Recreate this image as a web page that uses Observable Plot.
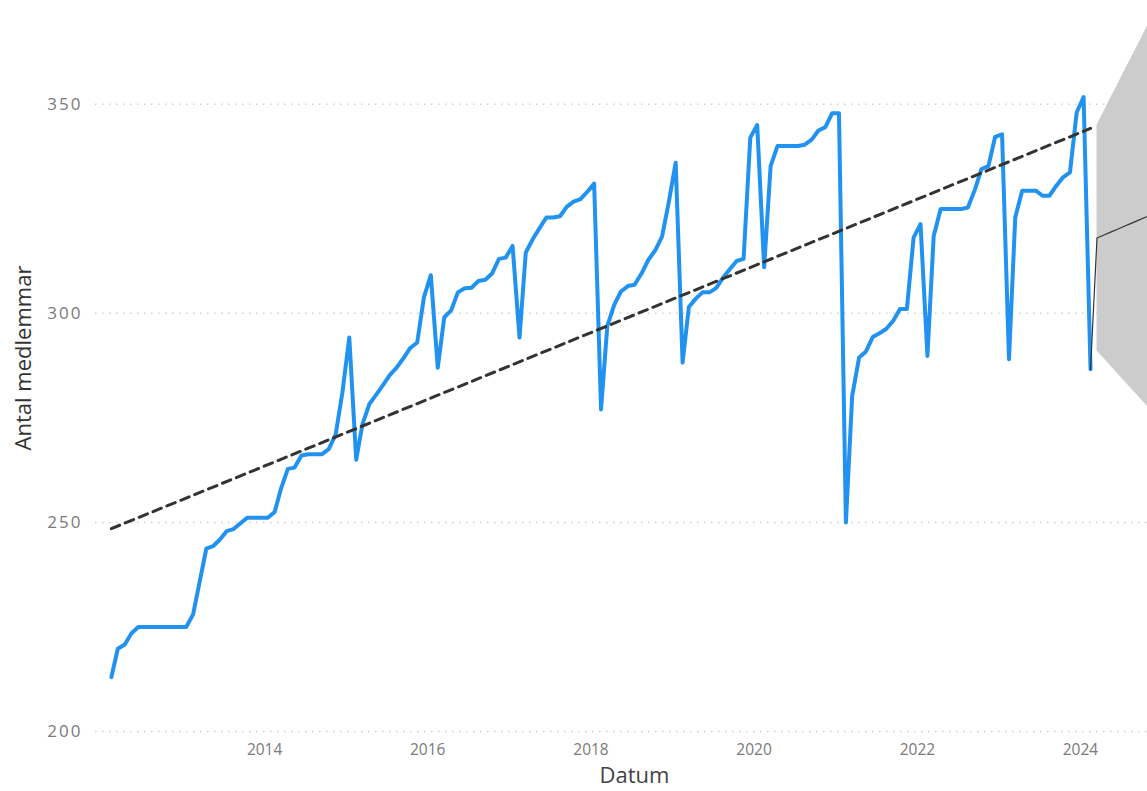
<!DOCTYPE html>
<html><head><meta charset="utf-8">
<script src="https://cdn.jsdelivr.net/npm/d3@7"></script>
<script src="https://cdn.jsdelivr.net/npm/@observablehq/plot@0.6"></script>
<style>
html,body{margin:0;padding:0;background:#fff;overflow:hidden}
#chart svg{display:block}
#chart [aria-label="y-axis tick label"] text{letter-spacing:2px}
</style></head><body><div id="chart"></div>
<script>
// Monthly member counts (first value of 2012 is February)
const members2012 = [213, 219.8, 220.8, 223.5, 225, 225, 225, 225, 225, 225, 225];
const members2013 = [225, 228, 235.5, 243.7, 244.3, 245.9, 247.9, 248.4, 249.8, 251.1, 251.1, 251.1];
const members2014 = [251.1, 252.5, 258, 262.8, 263.1, 266, 266.3, 266.3, 266.3, 267.5, 271, 281];
const members2015 = [294.2, 265, 273.5, 278.3, 280.5, 282.8, 285.2, 287, 289.3, 291.7, 293, 303.8];
const members2016 = [309.1, 287, 299, 300.7, 305, 306, 306.1, 307.7, 308, 309.5, 313, 313.3];
const members2017 = [316.1, 294.2, 314.5, 317.7, 320.3, 322.9, 322.9, 323.2, 325.5, 326.7, 327.3, 329];
const members2018 = [331, 277, 297, 302, 305.2, 306.5, 306.8, 309.5, 312.8, 315, 318.3, 326.5];
const members2019 = [336, 288.2, 301.5, 303.5, 305, 305, 306, 308.5, 310.6, 312.5, 313, 342];
const members2020 = [345, 311, 335.2, 340, 340, 340, 340, 340.3, 341.5, 343.7, 344.5, 347.8];
const members2021 = [347.8, 250, 280.2, 289.4, 290.8, 294.3, 295.2, 296.3, 298.2, 301, 301, 318.1];
const members2022 = [321.3, 289.8, 318.5, 324.9, 324.9, 324.9, 324.9, 325.3, 329.5, 334.5, 335.2, 342.2];
const members2023 = [342.8, 289, 322.9, 329.3, 329.3, 329.3, 328.1, 328.1, 330.5, 332.5, 333.7, 348];
const members2024 = [351.7, 286.6];

// Linear trend line end points
const trendMonths = ["2012-02", "2024-02"];
const trendValues = [248.5, 344.2];

// Forecast (from March 2024) with confidence band
const forecastMonths = ["2024-03","2024-04","2024-05","2024-06","2024-07","2024-08","2024-09","2024-10","2024-11"];
const forecastValues = [318, 318.7, 319.4, 320.1, 320.8, 321.5, 322.2, 322.9, 323.6];
const forecastUpper  = [345, 348.2, 351.4, 354.6, 357.8, 361, 364.2, 367.4, 370.6];
const forecastLower  = [291, 289.2, 287.4, 285.6, 283.8, 282, 280.2, 278.4, 276.6];

const yTicks = [200, 250, 300, 350];
const xTickYears = [2014, 2016, 2018, 2020, 2022, 2024];

const monthDate = (s) => { const [y, m] = s.split("-").map(Number); return new Date(Date.UTC(y, m - 1, 15)); };

const yearly = [
  [2012, 1, members2012], [2013, 0, members2013], [2014, 0, members2014], [2015, 0, members2015],
  [2016, 0, members2016], [2017, 0, members2017], [2018, 0, members2018], [2019, 0, members2019],
  [2020, 0, members2020], [2021, 0, members2021], [2022, 0, members2022], [2023, 0, members2023],
  [2024, 0, members2024]
];
const members = [];
for (const [yr, m0, arr] of yearly) arr.forEach((v, i) => members.push({date: new Date(Date.UTC(yr, m0 + i, 15)), value: v}));

const trend = trendMonths.map((m, i) => ({date: monthDate(m), value: trendValues[i]}));
const forecast = forecastMonths.map((m, i) => ({date: monthDate(m), value: forecastValues[i], upper: forecastUpper[i], lower: forecastLower[i]}));
const forecastLine = [members[members.length - 1], ...forecast];

const chart = Plot.plot({
  width: 1147,
  height: 791,
  marginLeft: 95,
  marginRight: 0,
  marginTop: 20,
  marginBottom: 60,
  style: {fontFamily: "'Open Sans', sans-serif", background: "#fff"},
  x: {type: "utc", domain: [new Date(Date.UTC(2011, 11, 6)), new Date(Date.UTC(2024, 9, 27))]},
  y: {domain: [200, 370]},
  marks: [
    Plot.areaY(forecast, {x: "date", y1: "lower", y2: "upper", fill: "#cccccc", clip: true}),
    Plot.ruleY(yTicks, {stroke: "#cfcfcf", strokeWidth: 1.5, strokeDasharray: "1.5,5.5"}),
    Plot.line(members, {x: "date", y: "value", stroke: "#2192f0", strokeWidth: 4, clip: true}),
    Plot.line(trend, {x: "date", y: "value", stroke: "#333", strokeWidth: 3, strokeDasharray: "9,6", clip: true}),
    Plot.line(forecastLine, {x: "date", y: "value", stroke: "#333", strokeWidth: 1.2, clip: true}),
    Plot.axisY({ticks: yTicks, tickSize: 0, tickPadding: 13, fontSize: 17, fill: "#7a7a7a", label: null}),
    Plot.axisX({ticks: xTickYears.map(y => new Date(Date.UTC(y, 0, 1))), tickFormat: d3.utcFormat("%Y"), tickSize: 0, tickPadding: 12, fontSize: 15.5, fill: "#7a7a7a", label: null}),
    Plot.text(["Datum"], {frameAnchor: "bottom", dx: 13, dy: 51, fontSize: 22, fill: "#444"}),
    Plot.text(["Antal medlemmar"], {frameAnchor: "left", textAnchor: "middle", dx: -72, dy: -18, rotate: -90, fontSize: 22, fill: "#333"})
  ]
});
document.getElementById("chart").appendChild(chart);
</script></body></html>
